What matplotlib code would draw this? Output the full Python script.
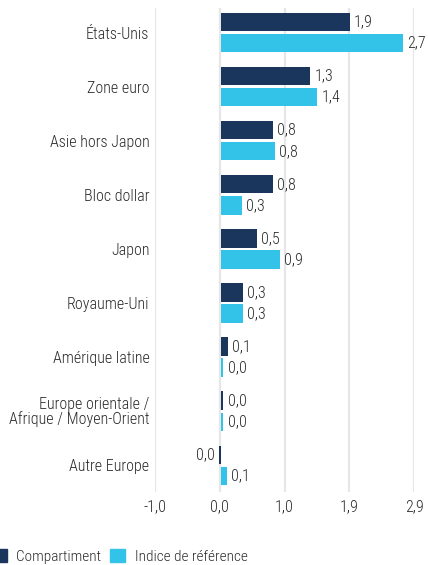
import matplotlib
matplotlib.use("Agg")
import matplotlib.pyplot as plt
from matplotlib.patches import Patch

regions = ["États-Unis", "Zone euro", "Asie hors Japon", "Bloc dollar", "Japon",
           "Royaume-Uni", "Amérique latine", "Europe orientale /\nAfrique / Moyen-Orient",
           "Autre Europe"]
compartiment = [1.93, 1.34, 0.78, 0.78, 0.54, 0.32, 0.10, 0.03, -0.04]
indice = [2.74, 1.44, 0.81, 0.31, 0.88, 0.32, 0.03, 0.03, 0.08]
xticks = [-1.0, -0.025, 0.95, 1.925, 2.9]
xticklabels = ["-1,0", "0,0", "1,0", "1,9", "2,9"]

navy = "#1b365d"
cyan = "#34c3e8"
txt = "#2b2b2b"

plt.rcParams["font.family"] = ["Roboto Condensed", "DejaVu Sans"]
plt.rcParams["font.stretch"] = "condensed"
plt.rcParams["font.weight"] = "light"
fs = 11.5

fig = plt.figure(figsize=(4.28, 5.65), dpi=100)
ax = fig.add_axes([155 / 428, 1 - 492 / 565, 259 / 428, 484 / 565])

y = list(range(len(regions)))
h = 0.34
off = 0.195
ax.barh([i - off for i in y], compartiment, height=h, color=navy, zorder=3)
ax.barh([i + off for i in y], indice, height=h, color=cyan, zorder=3)


def fmt(v):
    s = f"{v:.1f}"
    if s == "-0.0":
        s = "0.0"
    return s.replace(".", ",")


for series, dy in ((compartiment, -off), (indice, off)):
    for i, v in enumerate(series):
        if v < 0:
            ax.annotate(fmt(v), (v, i + dy), xytext=(-3, 0), textcoords="offset points",
                        ha="right", va="center", fontsize=fs, color=txt, annotation_clip=False)
        else:
            ax.annotate(fmt(v), (v, i + dy), xytext=(3, 0), textcoords="offset points",
                        ha="left", va="center", fontsize=fs, color=txt, annotation_clip=False)

ax.set_xlim(-1.0, 2.9)
ax.set_ylim(8.494, -0.453)
ax.set_xticks(xticks)
ax.set_xticklabels(xticklabels, fontsize=fs, color=txt)
ax.set_yticks(y)
ax.set_yticklabels(regions, fontsize=fs, color=txt, linespacing=0.95)
ax.tick_params(length=0, pad=4)
ax.tick_params(axis="x", pad=5)
for s in ax.spines.values():
    s.set_visible(False)
ax.grid(axis="x", color="#e6e6e6", linewidth=1.6, zorder=0)
ax.grid(axis="y", visible=False)

handles = [Patch(color=navy, label="Compartiment"), Patch(color=cyan, label="Indice de référence")]
fig.legend(handles=handles, loc="lower left", bbox_to_anchor=(-0.052, -0.022), ncol=2,
           frameon=False, fontsize=11, labelcolor=txt, handlelength=1.0, handleheight=1.0,
           handletextpad=0.6, columnspacing=0.6)

fig.savefig("out.png", dpi=100)
